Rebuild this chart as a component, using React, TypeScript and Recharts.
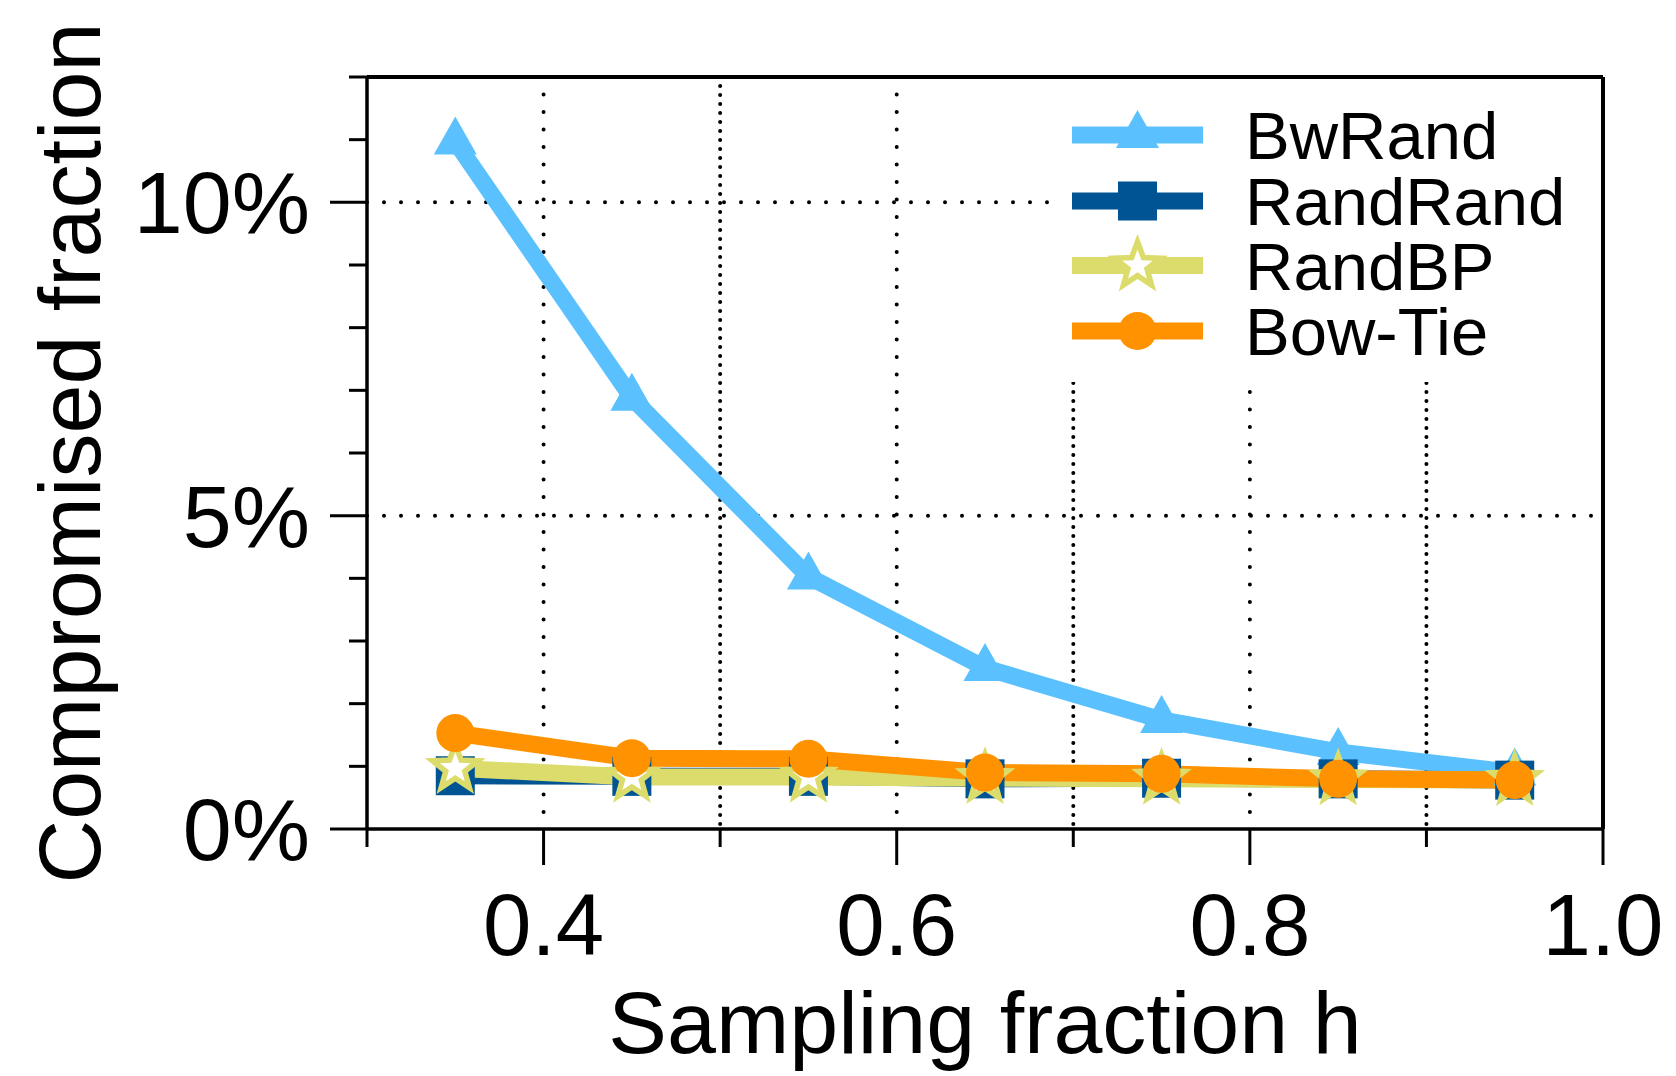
import React from 'react';
import { LineChart, Line, XAxis, YAxis, CartesianGrid, ReferenceLine, Legend } from 'recharts';

const FONT = "'Liberation Sans', Arial, Helvetica, sans-serif";

// Sampling fraction h (x)
const hValues = [0.35, 0.45, 0.55, 0.65, 0.75, 0.85, 0.95];
// Compromised fraction in percent
const bwRand = [10.97, 6.88, 4.03, 2.57, 1.74, 1.23, 0.9];
const randRand = [0.85, 0.84, 0.84, 0.8, 0.81, 0.8, 0.78];
const randBP = [0.97, 0.83, 0.83, 0.81, 0.8, 0.79, 0.78];
const bowTie = [1.53, 1.13, 1.12, 0.9, 0.88, 0.8, 0.78];

const seriesNames = ['BwRand', 'RandRand', 'RandBP', 'Bow-Tie'];
const seriesColors = ['#5ac1fe', '#005493', '#dcdc6c', '#ff9200'];
const seriesShapes = ['triangle', 'square', 'star', 'circle'];

const xTicks = [0.3, 0.4, 0.5, 0.6, 0.7, 0.8, 0.9, 1.0];
const xMajorLabels: Record<string, string> = { '0.4': '0.4', '0.6': '0.6', '0.8': '0.8', '1': '1.0' };
const yTicks = [0, 1, 2, 3, 4, 5, 6, 7, 8, 9, 10, 11, 12];
const yMajorLabels: Record<string, string> = { '0': '0%', '5': '5%', '10': '10%' };
const hGridValues = [5, 10];
const vGridMajor = [0.4, 0.6, 0.8];
const vGridMinor = [0.5, 0.7, 0.9];

const data = hValues.map((h, i) => ({
  h,
  BwRand: bwRand[i],
  RandRand: randRand[i],
  RandBP: randBP[i],
  'Bow-Tie': bowTie[i],
}));

function starPath(cx: number, cy: number, R: number, r: number) {
  let d = '';
  for (let i = 0; i < 10; i++) {
    const rad = i % 2 === 0 ? R : r;
    const a = -Math.PI / 2 + (i * Math.PI) / 5;
    d += (i === 0 ? 'M' : 'L') + (cx + rad * Math.cos(a)).toFixed(2) + ',' + (cy + rad * Math.sin(a)).toFixed(2);
  }
  return d + 'Z';
}

function Marker({ shape, color, cx, cy }: { shape: string; color: string; cx: number; cy: number }) {
  if (shape === 'triangle') {
    return (
      <path
        d={`M${cx},${cy - 25}L${cx - 21.5},${cy + 13}L${cx + 21.5},${cy + 13}Z`}
        fill={color}
      />
    );
  }
  if (shape === 'square') {
    return <rect x={cx - 19.5} y={cy - 19.5} width={39} height={39} fill={color} />;
  }
  if (shape === 'star') {
    return (
      <path
        d={starPath(cx, cy, 24, 10)}
        fill="#ffffff"
        stroke={color}
        strokeWidth={5.5}
        strokeLinejoin="miter"
        strokeMiterlimit={10}
      />
    );
  }
  return <circle cx={cx} cy={cy} r={19} fill={color} />;
}

const makeDot = (idx: number) => (props: any) => {
  const { cx, cy, index } = props;
  if (cx == null || cy == null) return <g key={`${seriesNames[idx]}-${index}`} />;
  return (
    <g key={`${seriesNames[idx]}-${index}`}>
      <Marker shape={seriesShapes[idx]} color={seriesColors[idx]} cx={cx} cy={cy} />
    </g>
  );
};

const XTick = (props: any) => {
  const { x, y, payload } = props;
  const v = payload.value as number;
  const major = Math.round(v * 10) % 2 === 0;
  const label = xMajorLabels[String(Math.round(v * 10) / 10)];
  return (
    <g>
      <line x1={x} x2={x} y1={y} y2={y + (major ? 36 : 18)} stroke="#000" strokeWidth={3} />
      {major && label && (
        <text x={x} y={y + 126} textAnchor="middle" fontSize={87} fontFamily={FONT} fill="#000">
          {label}
        </text>
      )}
    </g>
  );
};

const YTick = (props: any) => {
  const { x, y, payload } = props;
  const v = payload.value as number;
  const major = v % 5 === 0;
  const label = yMajorLabels[String(v)];
  return (
    <g>
      <line x1={x} x2={x - (major ? 37 : 18)} y1={y} y2={y} stroke="#000" strokeWidth={3} />
      {major && label && (
        <text x={x - 57} y={y + 31} textAnchor="end" fontSize={88} fontFamily={FONT} fill="#000">
          {label}
        </text>
      )}
    </g>
  );
};

const XLabel = (props: any) => {
  const vb = props.viewBox || { x: 359, y: 821, width: 1236, height: 247 };
  return (
    <text x={vb.x + vb.width / 2} y={vb.y + 224} textAnchor="middle" fontSize={88} fontFamily={FONT} fill="#000">
      Sampling fraction h
    </text>
  );
};

const YLabel = (props: any) => {
  const vb = props.viewBox || { x: 0, y: 69, width: 359, height: 752 };
  const cx = vb.x + 92;
  const cy = vb.y + vb.height / 2;
  return (
    <text
      x={cx}
      y={cy}
      transform={`rotate(-90 ${cx} ${cy})`}
      textAnchor="middle"
      fontSize={88}
      fontFamily={FONT}
      fill="#000"
    >
      Compromised fraction
    </text>
  );
};

const LegendBox = () => {
  const rows = [56, 122, 186.6, 252];
  return (
    <svg width={548} height={303} style={{ display: 'block' }}>
      <rect x={0} y={0} width={548} height={303} fill="#ffffff" />
      {seriesNames.map((name, i) => (
        <g key={name}>
          <line x1={19} x2={150} y1={rows[i]} y2={rows[i]} stroke={seriesColors[i]} strokeWidth={17} />
          <Marker shape={seriesShapes[i]} color={seriesColors[i]} cx={84.5} cy={rows[i]} />
          <text x={192} y={rows[i] + 24} fontSize={67} fontFamily={FONT} fill="#000">
            {name}
          </text>
        </g>
      ))}
    </svg>
  );
};

export default function App() {
  return (
    <div style={{ width: 1660, height: 1068, background: '#fff' }}>
      <LineChart
        width={1660}
        height={1068}
        data={data}
        margin={{ top: 69, right: 65, left: 0, bottom: 0 }}
        style={{ overflow: 'visible' }}
      >
        <CartesianGrid
          horizontal={true}
          vertical={false}
          horizontalValues={hGridValues}
          stroke="#000"
          strokeWidth={4}
          strokeDasharray="0 17"
          strokeLinecap="round"
        />
        <CartesianGrid
          horizontal={false}
          vertical={true}
          verticalValues={vGridMajor}
          stroke="#000"
          strokeWidth={4}
          strokeDasharray="0 17.5"
          strokeLinecap="round"
        />
        <CartesianGrid
          horizontal={false}
          vertical={true}
          verticalValues={vGridMinor}
          stroke="#000"
          strokeWidth={4}
          strokeDasharray="0 9"
          strokeLinecap="round"
        />
        <XAxis
          type="number"
          dataKey="h"
          domain={[0.3, 1.0]}
          ticks={xTicks}
          interval={0}
          allowDataOverflow
          height={247}
          tickSize={0}
          tickMargin={0}
          tickLine={false}
          axisLine={{ stroke: '#000', strokeWidth: 3.5 }}
          tick={<XTick />}
          label={<XLabel />}
        />
        <YAxis
          type="number"
          domain={[0, 12]}
          ticks={yTicks}
          interval={0}
          allowDataOverflow
          width={359}
          tickSize={0}
          tickMargin={0}
          tickLine={false}
          axisLine={{ stroke: '#000', strokeWidth: 3.5 }}
          tick={<YTick />}
          label={<YLabel />}
        />
        <ReferenceLine y={12} stroke="#000" strokeWidth={4} />
        <ReferenceLine x={1.0} stroke="#000" strokeWidth={4} />
        {seriesNames.map((name, i) => (
          <Line
            key={name}
            type="linear"
            dataKey={name}
            stroke={seriesColors[i]}
            strokeWidth={17}
            dot={makeDot(i)}
            activeDot={false}
            isAnimationActive={false}
          />
        ))}
        <Legend
          layout="horizontal"
          verticalAlign="middle"
          align="center"
          content={() => <LegendBox />}
          wrapperStyle={{ position: 'absolute', left: 1045, top: 71, width: 548, height: 303 }}
        />
      </LineChart>
    </div>
  );
}
